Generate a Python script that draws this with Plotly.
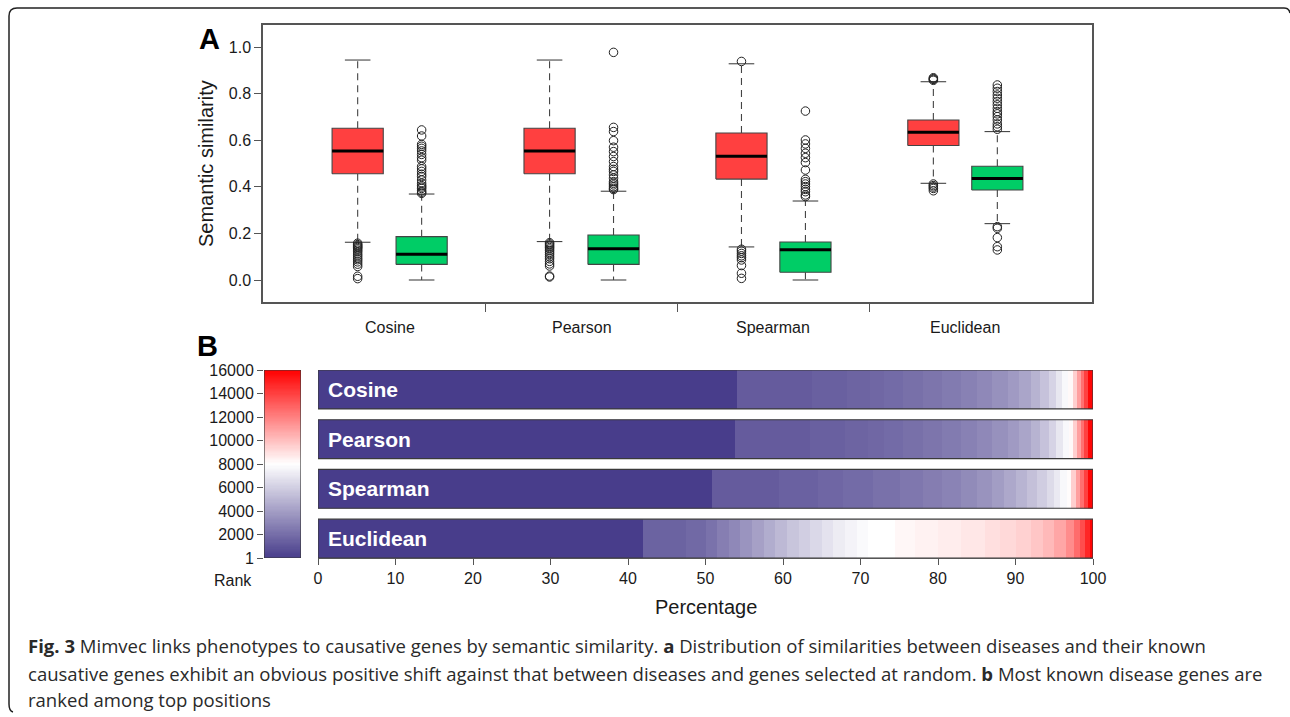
import numpy as np
import plotly.graph_objects as go

# ---------------------------------------------------------------- data
methods = ["Cosine", "Pearson", "Spearman", "Euclidean"]

# Panel A: box statistics (lower whisker, Q1, median, Q3, upper whisker)
disease_lw = [0.162, 0.165, 0.142, 0.415]
disease_q1 = [0.456, 0.456, 0.433, 0.577]
disease_med = [0.554, 0.554, 0.531, 0.634]
disease_q3 = [0.651, 0.651, 0.631, 0.687]
disease_uw = [0.944, 0.944, 0.928, 0.851]

random_lw = [0.0, 0.0, 0.0, 0.242]
random_q1 = [0.067, 0.067, 0.033, 0.386]
random_med = [0.110, 0.134, 0.130, 0.436]
random_q3 = [0.186, 0.193, 0.163, 0.488]
random_uw = [0.369, 0.381, 0.339, 0.637]

disease_outliers = [
    [0.158, 0.152, 0.147, 0.143, 0.139, 0.134, 0.128, 0.121, 0.112, 0.104,
     0.095, 0.087, 0.078, 0.068, 0.058, 0.016, 0.006],
    [0.160, 0.155, 0.150, 0.145, 0.139, 0.133, 0.126, 0.118, 0.110, 0.100,
     0.091, 0.080, 0.069, 0.060, 0.017, 0.013],
    [0.938, 0.132, 0.124, 0.114, 0.104, 0.096, 0.086, 0.062, 0.029, 0.007],
    [0.868, 0.864, 0.861, 0.857, 0.412, 0.405, 0.399, 0.393, 0.383],
]
random_outliers = [
    [0.644, 0.618, 0.582, 0.574, 0.565, 0.554, 0.539, 0.525, 0.514, 0.487,
     0.477, 0.466, 0.454, 0.444, 0.429, 0.415, 0.405, 0.399, 0.393, 0.383,
     0.377, 0.372],
    [0.977, 0.655, 0.637, 0.598, 0.570, 0.551, 0.530, 0.508, 0.487, 0.475,
     0.466, 0.451, 0.437, 0.422, 0.415, 0.408, 0.400, 0.393, 0.388],
    [0.725, 0.601, 0.584, 0.565, 0.544, 0.525, 0.504, 0.472, 0.432, 0.422,
     0.412, 0.401, 0.389, 0.379, 0.365, 0.358],
    [0.837, 0.823, 0.809, 0.794, 0.780, 0.766, 0.752, 0.737, 0.723, 0.713,
     0.701, 0.687, 0.670, 0.658, 0.647, 0.229, 0.222, 0.182, 0.143, 0.129],
]

# Panel B: percentage breakpoints of known disease genes and their rank band
cosine_pct = [0, 54.0, 63.7, 68.2, 71.2, 73.0, 75.5, 78.0, 80.5, 83.0, 85.0,
              87.0, 89.0, 90.5, 92.0, 93.2, 94.3, 95.2, 96.0, 96.8, 97.4,
              97.9, 98.4, 98.9, 99.4, 100]
cosine_rank = [1, 1250, 1450, 1600, 1750, 1900, 2100, 2300, 2550, 2800, 3100,
               3450, 3850, 4300, 4850, 5500, 6200, 7000, 7700, 8200, 9500,
               11000, 12500, 14000, 15800]

pearson_pct = [0, 53.8, 63.5, 68.0, 71.0, 73.0, 75.5, 78.0, 80.5, 83.0, 85.0,
               87.0, 89.0, 90.5, 92.0, 93.2, 94.3, 95.2, 96.1, 96.9, 97.4,
               97.9, 98.4, 98.9, 99.4, 100]
pearson_rank = [1, 1250, 1450, 1600, 1750, 1900, 2100, 2300, 2550, 2800, 3100,
                3450, 3850, 4300, 4850, 5500, 6200, 7000, 7700, 8200, 9500,
                11000, 12500, 14000, 15800]

spearman_pct = [0, 50.9, 59.5, 64.5, 67.7, 71.6, 75.1, 78.0, 80.5, 83.0,
                85.0, 87.0, 88.5, 90.0, 91.5, 92.8, 94.0, 95.0, 95.8, 96.6,
                97.2, 97.8, 98.3, 98.8, 99.4, 100]
spearman_rank = [1, 1250, 1500, 1700, 1900, 2150, 2400, 2650, 2900, 3200,
                 3550, 3950, 4400, 4900, 5400, 5950, 6500, 7100, 7700, 8100,
                 9500, 11000, 12500, 14000, 15800]

euclidean_pct = [0, 41.9, 47.5, 50.1, 51.5, 53.0, 54.5, 56.0, 57.5, 59.0,
                 60.5, 62.0, 63.5, 65.0, 66.5, 68.0, 69.5, 71.0, 74.5, 77.0,
                 80.0, 83.0, 86.0, 88.0, 90.0, 92.0, 93.5, 95.0, 96.5, 97.5,
                 98.3, 99.0, 99.6, 100]
euclidean_rank = [1, 1550, 1800, 2200, 2700, 3100, 3600, 4100, 4600, 5100,
                  5600, 6000, 6400, 6800, 7200, 7500, 7800, 8000, 8250, 8400,
                  8550, 8750, 9000, 9200, 9450, 9800, 10200, 10800, 11600,
                  12600, 13600, 14800, 15900]

rank_ticks = [1, 2000, 4000, 6000, 8000, 10000, 12000, 14000, 16000]
rank_max = 16000
sim_ticks = [0.0, 0.2, 0.4, 0.6, 0.8, 1.0]
pct_ticks = list(range(0, 101, 10))

# ---------------------------------------------------------------- styling
W, H = 1290, 717
FONT = "Liberation Sans, Arial, Helvetica, sans-serif"
TXT = "#1a1a1a"
EDGE = "#555555"
RED_FILL = "#FF4040"
GREEN_FILL = "#00CD66"
rank_scale = [[0.0, "rgb(72,61,139)"], [0.5, "rgb(255,255,255)"],
              [1.0, "rgb(255,0,0)"]]


def fx(x):
    """Pixel column -> paper fraction."""
    return x / W


def fy(y):
    """Pixel row -> paper fraction."""
    return 1 - y / H


fig = go.Figure()

# ---------------------------------------------------------------- panel A
half = 0.4
cap = 0.2


def add_box(pos, lw, q1, med, q3, uw, outs, fill):
    # dashed whiskers
    fig.add_trace(go.Scatter(
        x=[pos, pos, None, pos, pos], y=[q3, uw, None, q1, lw],
        mode="lines", line=dict(color="#444444", width=1.1, dash="7px,5px"),
        hoverinfo="skip", showlegend=False, xaxis="x", yaxis="y"))
    # staples
    fig.add_trace(go.Scatter(
        x=[pos - cap, pos + cap, None, pos - cap, pos + cap],
        y=[uw, uw, None, lw, lw],
        mode="lines", line=dict(color="#444444", width=1.1),
        hoverinfo="skip", showlegend=False, xaxis="x", yaxis="y"))
    # box body
    fig.add_trace(go.Scatter(
        x=[pos - half, pos + half, pos + half, pos - half, pos - half],
        y=[q1, q1, q3, q3, q1], fill="toself", fillcolor=fill,
        mode="lines", line=dict(color="#444444", width=1.1),
        hoverinfo="skip", showlegend=False, xaxis="x", yaxis="y"))
    # median
    fig.add_trace(go.Scatter(
        x=[pos - half, pos + half], y=[med, med], mode="lines",
        line=dict(color="#000000", width=3),
        hoverinfo="skip", showlegend=False, xaxis="x", yaxis="y"))
    # outliers
    fig.add_trace(go.Scatter(
        x=[pos] * len(outs), y=outs, mode="markers",
        marker=dict(symbol="circle-open", size=8.5, color="#222222",
                    line=dict(width=1)),
        hoverinfo="skip", showlegend=False, xaxis="x", yaxis="y"))


for i in range(len(methods)):
    base = 3 * i
    add_box(base + 1, disease_lw[i], disease_q1[i], disease_med[i],
            disease_q3[i], disease_uw[i], disease_outliers[i], RED_FILL)
    add_box(base + 2, random_lw[i], random_q1[i], random_med[i],
            random_q3[i], random_uw[i], random_outliers[i], GREEN_FILL)

# ---------------------------------------------------------------- panel B
bar_half = 0.39
bar_sets = [(cosine_pct, cosine_rank), (pearson_pct, pearson_rank),
            (spearman_pct, spearman_rank), (euclidean_pct, euclidean_rank)]
n_bars = len(bar_sets)
shapes = []
annotations = []
for i, (pct, rank) in enumerate(bar_sets):
    yc = n_bars - 1 - i
    fig.add_trace(go.Heatmap(
        x=pct, y=[yc - bar_half, yc + bar_half], z=[rank],
        colorscale=rank_scale, zmin=1, zmax=rank_max, showscale=False,
        hoverinfo="skip", xaxis="x2", yaxis="y2"))
    shapes.append(dict(type="rect", xref="x2", yref="y2", x0=0, x1=100,
                       y0=yc - bar_half, y1=yc + bar_half,
                       line=dict(color="#3a3a3a", width=1.2)))
    annotations.append(dict(
        x=1, y=yc, xref="x2", yref="y2", text=f"<b>{methods[i]}</b>",
        showarrow=False, xanchor="left", yanchor="middle",
        font=dict(family=FONT, size=21, color="white")))

# rank colour scale
levels = np.linspace(1, rank_max, 161)
mids = (levels[:-1] + levels[1:]) / 2
fig.add_trace(go.Heatmap(
    x=[0, 1], y=levels, z=[[m] for m in mids], colorscale=rank_scale,
    zmin=1, zmax=rank_max, showscale=False, hoverinfo="skip",
    xaxis="x3", yaxis="y3"))
shapes.append(dict(type="rect", xref="x3", yref="y3", x0=0, x1=1, y0=1,
                   y1=rank_max, line=dict(color="#3a3a3a", width=1.2)))

# ---------------------------------------------------------------- text
for i, m in enumerate(methods):
    annotations.append(dict(
        x=3 * i + 1.5, y=fy(327), xref="x", yref="paper", text=m,
        showarrow=False, xanchor="center", yanchor="middle",
        font=dict(family=FONT, size=16, color=TXT)))

annotations += [
    dict(x=fx(206), y=fy(164), xref="paper", yref="paper",
         text="Semantic similarity", textangle=-90, showarrow=False,
         xanchor="center", yanchor="middle",
         font=dict(family=FONT, size=20, color=TXT)),
    dict(x=fx(209), y=fy(39), xref="paper", yref="paper", text="<b>A</b>",
         showarrow=False, xanchor="center", yanchor="middle",
         font=dict(family=FONT, size=29, color="#000000")),
    dict(x=fx(207), y=fy(346), xref="paper", yref="paper", text="<b>B</b>",
         showarrow=False, xanchor="center", yanchor="middle",
         font=dict(family=FONT, size=29, color="#000000")),
    dict(x=fx(706), y=fy(607), xref="paper", yref="paper",
         text="Percentage", showarrow=False, xanchor="center",
         yanchor="middle", font=dict(family=FONT, size=20, color=TXT)),
    dict(x=fx(233), y=fy(580), xref="paper", yref="paper", text="Rank",
         showarrow=False, xanchor="center", yanchor="middle",
         font=dict(family=FONT, size=16, color=TXT)),
]

caption_lines = [
    "<b>Fig. 3</b> Mimvec links phenotypes to causative genes by semantic "
    "similarity. <b>a</b> Distribution of similarities between diseases and "
    "their known",
    "causative genes exhibit an obvious positive shift against that between "
    "diseases and genes selected at random. <b>b</b> Most known disease genes "
    "are",
    "ranked among top positions",
]
caption_y = [645, 673, 699]
for line, yy in zip(caption_lines, caption_y):
    annotations.append(dict(
        x=fx(26), y=fy(yy), xref="paper", yref="paper", text=line,
        showarrow=False, xanchor="left", yanchor="middle",
        font=dict(family="Open Sans, Lato, sans-serif", size=18.55,
                  color="#2a2a2a")))

# rounded frame around the figure (top and left edges)
frame = (f"M {fx(1290)},{fy(13)} Q {fx(1289)},{fy(8)} {fx(1284)},{fy(8)} "
         f"L {fx(17)},{fy(8)} Q {fx(9)},{fy(8)} {fx(9)},{fy(16)} "
         f"L {fx(9)},{fy(704)} Q {fx(9)},{fy(711)} {fx(13)},{fy(712)}")
shapes.append(dict(type="path", xref="paper", yref="paper", path=frame,
                   line=dict(color="#222222", width=1.5)))

# ---------------------------------------------------------------- layout
tickfont = dict(family=FONT, size=16, color=TXT)
fig.update_layout(
    width=W, height=H, margin=dict(l=0, r=0, t=0, b=0, pad=0),
    paper_bgcolor="white", plot_bgcolor="white", showlegend=False,
    xaxis=dict(domain=[fx(263), fx(1092)], range=[-0.48, 12.48],
               tickvals=[3, 6, 9], ticktext=["", "", ""], ticks="outside",
               ticklen=8, tickwidth=1.2, tickcolor=EDGE, showline=True,
               mirror=True, linecolor=EDGE, linewidth=1.5, showgrid=False,
               zeroline=False, anchor="y", automargin=False),
    yaxis=dict(domain=[fy(302), fy(25)], range=[-0.0944, 1.0944],
               tickvals=sim_ticks, ticktext=[f"{v:.1f}" for v in sim_ticks],
               ticks="outside", ticklen=7, tickwidth=1.2, tickcolor=EDGE,
               showline=True, mirror=True, linecolor=EDGE, linewidth=1.5,
               showgrid=False, zeroline=False, tickfont=tickfont,
               anchor="x", automargin=False),
    xaxis2=dict(domain=[fx(318), fx(1093)], range=[0, 100],
                tickvals=pct_ticks, ticktext=[str(v) for v in pct_ticks],
                ticks="outside", ticklen=6,
                tickwidth=1.2, tickcolor=EDGE, showline=True,
                linecolor=EDGE, linewidth=1.2, showgrid=False,
                zeroline=False, tickfont=tickfont, anchor="y2",
                automargin=False),
    yaxis2=dict(domain=[fy(558), fy(370)],
                range=[-bar_half, n_bars - 1 + bar_half], visible=False,
                anchor="x2", automargin=False),
    xaxis3=dict(domain=[fx(264), fx(301)], range=[0, 1], visible=False,
                anchor="y3", automargin=False),
    yaxis3=dict(domain=[fy(558), fy(370)], range=[1, rank_max],
                tickvals=rank_ticks, ticktext=[str(v) for v in rank_ticks],
                ticks="outside", ticklen=6,
                tickwidth=1.2, tickcolor=EDGE, showline=False,
                showgrid=False, zeroline=False, tickfont=tickfont,
                anchor="x3", side="left", automargin=False),
    shapes=shapes, annotations=annotations,
)

fig.write_html("out.html")
